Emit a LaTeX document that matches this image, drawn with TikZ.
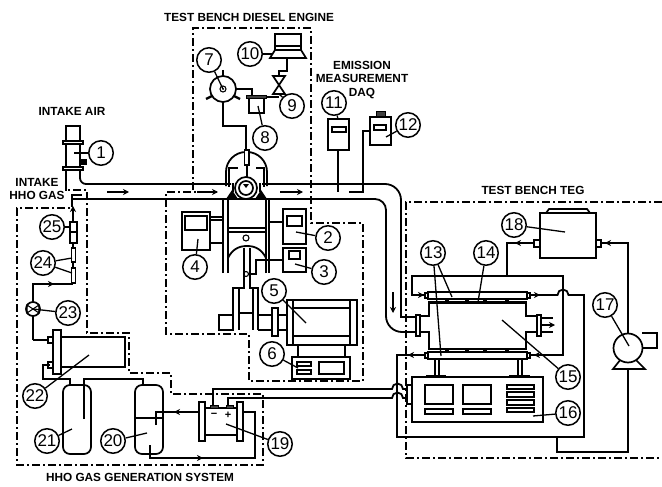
\documentclass[tikz,border=0pt]{standalone}
\usepackage{fontspec}
\setmainfont{Liberation Sans}
\usetikzlibrary{arrows.meta}
\tikzset{
  wire/.style={draw=black,line width=1.8pt,line join=miter},
  thin wire/.style={draw=black,line width=1.1pt},
  flow/.style={draw=black,line width=1.6pt,-{Stealth[length=6pt,width=6pt]}},
  dashbox/.style={draw=black,line width=1.6pt,dash pattern=on 8pt off 3pt on 2pt off 3pt},
  part/.style={draw=black,fill=white,line width=1.7pt},
  solidpart/.style={draw=black,fill=black!75,line width=.6pt},
  tag/.style={circle,draw=black,fill=white,line width=1.5pt,minimum size=24.5pt,inner sep=0pt,font=\fontsize{17}{17}\selectfont},
  leader/.style={draw=black,line width=1.3pt},
  captxt/.style={font=\bfseries\fontsize{11.8}{13.5}\selectfont,align=center,inner sep=0pt}
}
\newcommand{\tagged}[4]{%
  \coordinate (e#1) at (#4);
  \node[tag] (t#1) at (#2) {#3};
  \draw[leader] (t#1) -- (e#1);}
\begin{document}
\begin{tikzpicture}[x=1pt,y=-1pt]
\useasboundingbox[fill=white] (0,0) rectangle (662,487);

% dash-dot enclosures
\draw[dashbox] (193,190) -- (193,28) -- (311,28) -- (311,223) -- (363,223) -- (363,381) -- (249,381) -- (249,334) -- (166,334) -- (166,192) -- (217,192);
\draw[dashbox] (72,199) -- (72,208) -- (17,208) -- (17,465) -- (263,465) -- (263,394) -- (171,394) -- (171,373) -- (129,373) -- (129,333) -- (87,333) -- (87,190) -- (68,190);
\draw[dashbox] (662,202) -- (406,202) -- (406,458) -- (662,458);

% intake tube and main pipes
\draw[wire] (66,126) rectangle (80,142);
\draw[wire] (66,142) -- (66,191);
\draw[wire] (80,142) -- (80,178) arc[start angle=180,end angle=90,radius=6] -- (231,184);
\draw[part] (63,141) rectangle (83,144);
\draw[part] (63,167) rectangle (83,170);
\draw[wire] (72,199) -- (226,199);
\draw[wire] (72,199) -- (72,195) -- (82,195);
\draw[wire] (262,184) -- (385,184) arc[start angle=-90,end angle=0,radius=16] -- (401,317) -- (416,317);
\draw[wire] (268,199) -- (375,199) arc[start angle=-90,end angle=0,radius=11] -- (386,316) arc[start angle=180,end angle=90,radius=16] -- (416,332);
\fill[black] (80,159) rectangle (87,165);
\draw[flow] (107,192) -- (129,192);
\draw[flow] (197,192) -- (218,192);
\draw[flow] (280,192) -- (303,192);
\draw[flow] (393,292) -- (393,313);

% engine head
\draw[wire] (226,186) -- (226,172) arc[start angle=180,end angle=270,radius=20] -- (247,152) arc[start angle=270,end angle=360,radius=20] -- (267,186);
\draw[part] (244.5,150) rectangle (249,165);
\draw[wire] (247,165) -- (247,180);
\draw[wire] (238,168) -- (229,168) -- (229,187);
\draw[wire] (256,168) -- (264,168) -- (264,187);
\draw[wire] (233,183) -- (233,192);
\draw[wire] (260,183) -- (260,192);
\fill[black] (226,199) -- (232,190) -- (238,199) -- cycle;
\fill[black] (255,199) -- (261,190) -- (267,199) -- cycle;
\draw[part] (246,188) circle[radius=11];
\draw[part] (246,188) circle[radius=7];
\fill[black] (243,184) -- (246,188) -- (249,184) -- cycle;

% engine block
\draw[wire] (223,273) -- (223,199) -- (269,199) -- (269,273);
\draw[wire] (228,273) -- (228,199);
\draw[wire] (266,273) -- (266,199);
\draw[wire] (228,228) -- (266,228);
\draw[wire] (228,232) -- (266,232);
\draw[thin wire] (246,238) circle[radius=3];
\draw[wire] (228,258) .. controls (232,250) and (238,246) .. (247,246) .. controls (256,246) and (262,250) .. (266,258);
\draw[wire] (244,248) -- (244,288) -- (239,288) -- (233,288) -- (233,330);
\draw[wire] (239,288) -- (239,330);
\draw[wire] (250,248) -- (250,288) -- (258,288) -- (258,330);
\draw[wire] (253,288) -- (253,330);
\draw[wire] (239,313) -- (253,313);
\draw[part] (219,315) rectangle (233,330);
\draw[thin wire] (246,274) circle[radius=2.5];
\draw[wire] (258,315) -- (272,315);
\draw[wire] (258,330) -- (272,330);
\draw[wire] (278,315) -- (287,315);
\draw[wire] (278,330) -- (287,330);
\draw[part] (272,308) rectangle (278,336);

% generator and its base
\draw[part] (287,300) rectangle (357,345);
\draw[wire] (293,300) -- (293,345);
\draw[wire] (350,300) -- (350,345);
\draw[wire] (293,308) -- (350,308);
\draw[wire] (293,336) -- (350,336);
\draw[wire,line width=2.2pt] (298,345) -- (298,357);
\draw[wire,line width=2.2pt] (345,345) -- (345,357);
\draw[part] (292,357) rectangle (350,379);
\draw[part] (297,362) rectangle (311,366);
\draw[part] (297,370) rectangle (311,374);
\draw[part] (319,362) rectangle (344,374);

% instruments around the engine
\draw[wire] (210,217) -- (223,217);
\draw[wire] (210,220) -- (223,220);
\draw[wire,line width=2.2pt] (210,243) -- (223,243);
\draw[part] (182,212) rectangle (210,250);
\draw[part] (185,216) rectangle (207,230);
\draw[wire,line width=2.4pt] (269,222) -- (283,222);
\draw[part] (283,209) rectangle (306,244);
\draw[part] (287,216) rectangle (302,226);
\draw[wire] (283,260) -- (256,260) -- (256,274) -- (249,274);
\draw[part] (283,248) rectangle (306,272);
\draw[part] (289,251) rectangle (300,259);

% ignition / fuel group at top
\draw[wire] (223,102) -- (223,126) -- (246,126) -- (246,150);
\draw[wire] (236,89) -- (252,89) -- (252,96);
\draw[wire] (266,97) -- (279,97);
\draw[wire] (279,94) -- (279,71) -- (287,71) -- (287,59);
\draw[part] (279,85) -- (273,76) -- (285,76) -- (273,94) -- (285,94) -- cycle;
\draw[wire,line width=2.2pt] (223,70) -- (223,78);
\draw[wire,line width=2.4pt] (212,96) -- (206,99);
\draw[wire,line width=2.4pt] (234,96) -- (240,99);
\draw[part] (223,89) circle[radius=13];
\draw[thin wire] (223,89) circle[radius=3];
\fill[black] (223,89) circle[radius=1];
\draw[part] (249,97) rectangle (264,113);
\draw[solidpart] (246,95) rectangle (266,98);
\draw[part] (275,34) rectangle (301,50);
\draw[wire] (275,46) -- (301,46);
\draw[part] (275,50) -- (301,50) -- (306,58) -- (270,58) -- cycle;

% emission instruments
\draw[wire] (338,150) -- (338,192);
\draw[part] (328,119) rectangle (349,150);
\draw[part] (332,127) rectangle (346,132);
\draw[wire] (370,131) -- (363,131) -- (363,192) -- (349,192);
\draw[solidpart] (376,111) rectangle (385,117);
\draw[part] (370,117) rectangle (391,145);
\draw[part] (374,125) rectangle (386,130);

% HHO line
\draw[wire] (73,208) -- (73,284);
\draw[flow] (73,222) -- (73,206);
\draw[part] (70,222) rectangle (77,243);
\draw[wire] (70,232) -- (77,232);
\draw[part] (71.5,248) rectangle (75.5,262);
\draw[part] (71.5,268) rectangle (75.5,283);
\draw[wire] (33,340) -- (33,284) -- (73,284);
\draw[flow] (33,284) -- (54,284);
\draw[part] (33,309) circle[radius=7];
\draw[thin wire] (27,305) -- (39,313) -- (39,305) -- (27,313) -- cycle;
\draw[wire] (33,340) -- (48,340);
\draw[part] (48,337) rectangle (53,343);
\draw[part] (48,362) rectangle (53,368);
\draw[wire] (50,365) -- (43,365) -- (43,379) -- (70,379) -- (70,385);
\draw[part] (61,337) rectangle (125,367);
\draw[part] (53,330) rectangle (61,374);

% tanks
\draw[part,rounded corners=7pt] (63,385) rectangle (91,454);
\draw[part,rounded corners=7pt] (135,385) rectangle (163,454);
\draw[wire] (84,419) -- (84,379) -- (143,379) -- (143,385);
\draw[wire] (135,418) -- (163,418);
\draw[wire] (156,425) -- (156,412) -- (199,412);
\draw[flow] (190,412) -- (174,412);
\draw[wire] (150,445) -- (150,458) -- (255,458) -- (255,412) -- (243,412);
\draw[flow] (190,458) -- (203,458);

% electrolyser
\draw[part] (205,408) rectangle (237,435);
\draw[part] (199,402) rectangle (205,441);
\draw[part] (237,402) rectangle (243,441);
\draw[solidpart] (210,405) rectangle (218,408);
\draw[solidpart] (226,405) rectangle (233,408);
\node[font=\bfseries\fontsize{11}{11}\selectfont,inner sep=0pt] (minus) at (214,415) {−};
\node[font=\bfseries\fontsize{11}{11}\selectfont,inner sep=0pt] (plus) at (228,415) {+};
\draw[wire] (213,405) -- (213,389) -- (392,389) arc[start angle=180,end angle=360,radius=5.5] -- (407,389);
\draw[wire] (228,405) -- (228,398) -- (392,398) arc[start angle=180,end angle=360,radius=5.5] -- (407,398);

% TEG: exhaust body
\draw[wire] (420,316) -- (429,316) -- (429,302) -- (526,302) -- (526,316) -- (537,316);
\draw[wire] (420,332) -- (429,332) -- (429,349) -- (526,349) -- (526,332) -- (537,332);
\draw[part] (416,315) rectangle (420,336);
\draw[part] (537,315) rectangle (541,336);
\draw[wire] (541,318) -- (553,318);
\draw[wire] (541,332) -- (553,332);
\draw[flow] (541,325) -- (555,325);

% TEG: coolant bars
\draw[part] (428,292) rectangle (527,299);
\draw[part] (428,352) rectangle (527,359);
\draw[wire] (428,303) -- (527,303);
\draw[wire] (428,349) -- (527,349);
\foreach \xa in {445,465,483,505} {
  \fill[black] (\xa,299) rectangle ++(4,4);
  \fill[black] (\xa,349) rectangle ++(4,3);
}
\draw[part] (425,293) rectangle (428,298);
\draw[part] (527,293) rectangle (530,298);
\draw[part] (425,353) rectangle (428,358);
\draw[part] (527,353) rectangle (530,358);

% TEG: coolant circuit
\draw[wire] (425,295) -- (412,295) -- (412,276) -- (563,276) -- (563,355) -- (530,355);
\draw[flow] (412,295) -- (424,295);
\draw[flow] (541,355) -- (534,355);
\draw[wire] (507,276) -- (507,243) -- (534,243);
\draw[flow] (527,243) -- (515,243);
\draw[wire] (530,295) -- (557.5,295) arc[start angle=180,end angle=360,radius=5.5] -- (584,295) -- (584,437) -- (397,437) -- (397,355) -- (425,355);
\draw[flow] (534,295) -- (540,295);
\draw[flow] (416,355) -- (408,355);
\draw[wire] (557,437) -- (557,452) -- (628,452) -- (628,369);
\draw[wire] (628,334) -- (628,243) -- (601,243);
\draw[flow] (616,243) -- (605,243);

% reservoir 18
\draw[part] (546,213) -- (549,209) -- (587,209) -- (590,213) -- cycle;
\draw[part] (540,213) rectangle (596,258);
\draw[part] (534,240) rectangle (540,247);
\draw[part] (596,240) rectangle (601,247);

% pump 17
\draw[part] (613,369) -- (621,359) -- (635,359) -- (645,369) -- cycle;
\draw[wire] (642,333) -- (657,333) -- (657,348) -- (642,348);
\draw[part] (628,348) circle[radius=14.5];

% chiller 16
\draw[part] (435,359) rectangle (439,376);
\draw[part] (518,359) rectangle (522,376);
\draw[solidpart,fill=black!50] (426,375) rectangle (445,377);
\draw[solidpart,fill=black!50] (509,375) rectangle (529,377);
\draw[part] (412,377) rectangle (543,422);
\draw[part] (407,385) rectangle (412,404);
\draw[part] (425,385) rectangle (453,404);
\draw[part] (463,385) rectangle (491,404);
\draw[part] (425,409) rectangle (453,414);
\draw[part] (463,409) rectangle (491,414);
\draw[part] (507,385) rectangle (534,389);
\draw[part] (507,392) rectangle (534,397);
\draw[part] (507,400) rectangle (534,405);
\draw[part] (507,408) rectangle (534,412);

% number tags with their leaders
\tagged{1}{101,153}{1}{74,153}
\tagged{2}{328,238}{2}{296,232}
\tagged{3}{324,272}{3}{295,264}
\tagged{4}{195,267}{4}{198,239}
\tagged{5}{274,291}{5}{306,323}
\tagged{6}{272,354}{6}{298,368}
\tagged{7}{209,60}{7}{223,89}
\tagged{8}{265,138}{8}{258,106}
\tagged{9}{292,106}{9}{279,94}
\tagged{10}{250,54}{10}{272,54}
\tagged{11}{334,103}{11}{338,119}
\tagged{12}{408,125}{12}{386,137}
\tagged{13}{433,253}{13}{452,297}
\coordinate (e13b) at (441,356);
\draw[leader] (t13) -- (e13b);
\tagged{14}{486,253}{14}{478,302}
\tagged{15}{568,377}{15}{502,320}
\tagged{16}{568,413}{16}{533,416}
\tagged{17}{605,305}{17}{629,346}
\tagged{18}{514,225}{18}{565,232}
\tagged{19}{280,444}{19}{226,424}
\tagged{20}{113,441}{20}{147,433}
\tagged{21}{47,441}{21}{72,429}
\tagged{22}{35,396}{22}{89,355}
\tagged{23}{68,313}{23}{33,309}
\tagged{24}{43,263}{24}{72,258}
\coordinate (e24b) at (72,273);
\draw[leader] (t24) -- (e24b);
\tagged{25}{52,227}{25}{70,227}

% captions
\node[captxt] (c1) at (249,17) {TEST BENCH DIESEL ENGINE};
\node[captxt] (c2) at (362,80) {EMISSION\\MEASUREMENT\\DAQ};
\node[captxt] (c3) at (72,111) {INTAKE AIR};
\node[captxt] (c4) at (37,189) {INTAKE\\HHO GAS};
\node[captxt] (c5) at (533,190) {TEST BENCH TEG};
\node[captxt] (c6) at (140,477) {HHO GAS GENERATION SYSTEM};
\end{tikzpicture}
\end{document}
